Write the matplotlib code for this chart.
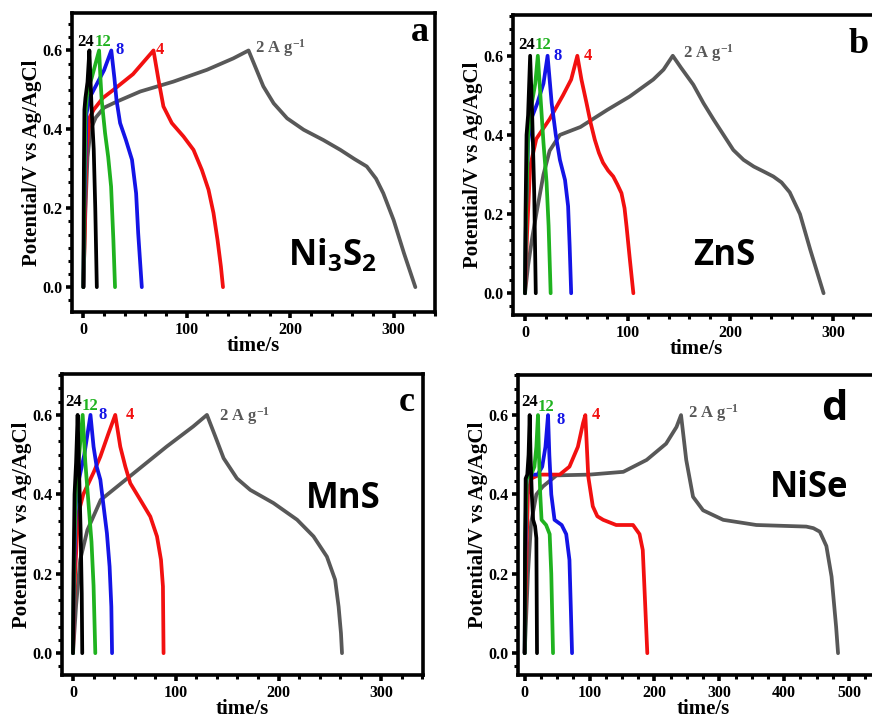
import matplotlib
matplotlib.use("Agg")
import matplotlib.pyplot as plt
from matplotlib.ticker import MultipleLocator, FormatStrFormatter

# ---------------- data (time in s, potential in V) ----------------
# Panel a: Ni3S2
A2_T = [0, 2, 4, 7, 12, 20, 32, 55, 87, 119.5, 145, 159.7,
        166, 174, 184, 197, 213, 232, 248.5, 262, 274, 283, 290, 300, 310, 321]
A2_V = [0, 0.2, 0.33, 0.4, 0.43, 0.455, 0.47, 0.496, 0.521, 0.551, 0.58, 0.6,
        0.56, 0.509, 0.466, 0.428, 0.399, 0.373, 0.348, 0.325, 0.306, 0.275, 0.238, 0.17,
        0.086, 0]
A4_T = [0, 1, 3, 6, 10, 19, 29, 48, 67.8,
        72.6, 77.4, 85.5, 96.8, 106.5, 114.6, 121, 125.8, 129.7, 133, 135]
A4_V = [0, 0.1, 0.35, 0.43, 0.45, 0.48, 0.5, 0.54, 0.6,
        0.526, 0.458, 0.416, 0.382, 0.348, 0.297, 0.247, 0.188, 0.12, 0.052, 0]
A8_T = [0, 1, 3, 6, 12, 20, 27, 30, 32, 35.5, 41, 47, 51, 53, 56.5]
A8_V = [0, 0.2, 0.44, 0.48, 0.51, 0.55, 0.6, 0.53, 0.475, 0.416, 0.374, 0.323, 0.238,
        0.137, 0]
A12_T = [0, 1, 2, 4, 8, 15.2, 16.5, 17.7, 21, 24, 26.8, 29, 30.6]
A12_V = [0, 0.25, 0.44, 0.5, 0.53, 0.6, 0.53, 0.475, 0.39, 0.33, 0.255, 0.12, 0]
A24_T = [0, 0.5, 1, 2, 4, 5.8, 8, 10, 11.5, 13]
A24_V = [0, 0.3, 0.45, 0.48, 0.52, 0.6, 0.45, 0.35, 0.2, 0]

# Panel b: ZnS
B2_T = [0, 3, 7, 11, 18, 24, 34, 54, 80, 102, 125, 135, 144,
        152, 164, 174, 184, 194, 203, 213, 223, 233, 242, 250, 258, 268, 278, 291]
B2_V = [0, 0.07, 0.14, 0.2, 0.3, 0.36, 0.4, 0.42, 0.463, 0.497, 0.54, 0.565, 0.6,
        0.57, 0.527, 0.48, 0.438, 0.398, 0.362, 0.337, 0.32, 0.307, 0.295, 0.28, 0.255,
        0.2, 0.11, 0]
B4_T = [0, 2, 5, 11, 24, 37, 45, 51,
        55, 60, 64, 68, 72, 76, 81, 86, 90, 94, 97, 99, 102, 105.6]
B4_V = [0, 0.15, 0.32, 0.39, 0.44, 0.5, 0.54, 0.6,
        0.54, 0.48, 0.43, 0.388, 0.355, 0.33, 0.31, 0.295, 0.275, 0.253, 0.215, 0.168,
        0.09, 0]
B8_T = [0, 1, 3, 6, 12, 18, 22, 26, 30, 34, 39, 42, 43.5, 45]
B8_V = [0, 0.2, 0.38, 0.44, 0.48, 0.53, 0.6, 0.48, 0.4, 0.337, 0.286, 0.22, 0.12, 0]
B12_T = [0, 1, 3, 6, 10, 12.5, 15, 18, 21, 23, 25]
B12_V = [0, 0.2, 0.4, 0.47, 0.53, 0.6, 0.5, 0.38, 0.28, 0.17, 0]
B24_T = [0, 0.5, 1.5, 3, 5, 7, 9, 10.5]
B24_V = [0, 0.2, 0.4, 0.45, 0.6, 0.45, 0.25, 0]

# Panel c: MnS
C2_T = [0, 3, 7, 14, 27, 59, 91, 117, 130.3,
        138.4, 146.5, 159.5, 172.5, 195, 218, 234, 247, 255, 258.4, 260.7, 261.7]
C2_V = [0, 0.12, 0.235, 0.31, 0.386, 0.453, 0.52, 0.571, 0.6,
        0.546, 0.491, 0.44, 0.411, 0.378, 0.336, 0.294, 0.243, 0.185, 0.117, 0.05, 0]
C4_T = [0, 2, 5, 10, 20, 26.6, 34.6, 41.1,
        46, 50.9, 55.7, 65.5, 75.2, 81.7, 85.6, 87.5, 88.1]
C4_V = [0, 0.2, 0.35, 0.4, 0.455, 0.495, 0.554, 0.6,
        0.52, 0.47, 0.428, 0.386, 0.344, 0.294, 0.235, 0.168, 0]
C8_T = [0, 1, 3, 6, 11, 17, 20, 23, 26.6, 29.8, 33, 35.6, 37.3, 38]
C8_V = [0, 0.2, 0.38, 0.44, 0.5, 0.6, 0.52, 0.47, 0.437, 0.369, 0.302, 0.218, 0.117, 0]
C12_T = [0, 1, 3, 6, 9.4, 12, 15, 18, 20, 21.7]
C12_V = [0, 0.25, 0.42, 0.5, 0.6, 0.48, 0.38, 0.28, 0.17, 0]
C24_T = [0, 0.5, 1.5, 3, 4.5, 6, 7.5, 8.5, 9]
C24_V = [0, 0.2, 0.4, 0.48, 0.6, 0.45, 0.3, 0.15, 0]

# Panel d: NiSe
D2_T = [0, 5, 10, 18, 28, 49, 100, 152, 188, 218, 234, 241,
        249, 259.5, 275, 306, 357, 434, 445, 455, 465, 473, 480, 483]
D2_V = [0, 0.2, 0.33, 0.4, 0.42, 0.448, 0.45, 0.457, 0.487, 0.528, 0.57, 0.6,
        0.487, 0.394, 0.36, 0.336, 0.323, 0.319, 0.315, 0.306, 0.27, 0.193, 0.067, 0]
D4_T = [0, 2, 5, 10, 23, 54, 69, 82, 90, 93.5,
        98, 105, 112, 121, 141, 167, 177, 182, 185, 189]
D4_V = [0, 0.2, 0.4, 0.44, 0.45, 0.45, 0.47, 0.52, 0.58, 0.6,
        0.445, 0.37, 0.345, 0.336, 0.323, 0.323, 0.30, 0.26, 0.15, 0]
D8_T = [0, 1, 3, 8, 20, 27, 32, 36, 38, 41, 46, 57, 64, 69, 71, 73]
D8_V = [0, 0.25, 0.44, 0.45, 0.45, 0.47, 0.52, 0.6, 0.5, 0.40, 0.336, 0.323, 0.30, 0.235,
        0.12, 0]
D12_T = [0, 1, 3, 10, 15, 18, 20.5, 22, 24, 26, 33, 38.5, 41, 43.7]
D12_V = [0, 0.3, 0.44, 0.45, 0.47, 0.52, 0.6, 0.5, 0.4, 0.336, 0.323, 0.3, 0.2, 0]
D24_T = [0, 0.5, 1.5, 4, 6, 7.7, 9, 11, 13, 16, 18, 19]
D24_V = [0, 0.25, 0.44, 0.45, 0.5, 0.6, 0.5, 0.4, 0.336, 0.32, 0.29, 0]

RATES = ["2", "4", "8", "12", "24"]
COLORS = {"2": "#585858", "4": "#f21010", "8": "#1414e6", "12": "#1fb21f", "24": "#000000"}

SERIF = ["Liberation Serif", "DejaVu Serif"]
SANS = ["Open Sans", "DejaVu Sans"]

fig = plt.figure(figsize=(8.72, 7.25), dpi=100)
W, H = 872.0, 725.0


def make_ax(left, top, right, bottom):
    return fig.add_axes([left / W, 1 - bottom / H, (right - left) / W, (bottom - top) / H])


panels = [
    dict(ax=make_ax(72, 13, 435, 312), xlim=(-11, 340), ylim=(-0.063, 0.695), xminor=20,
         curves={"2": (A2_T, A2_V), "4": (A4_T, A4_V), "8": (A8_T, A8_V),
                 "12": (A12_T, A12_V), "24": (A24_T, A24_V)},
         labels={"24": (-6, 0.622), "12": (10.6, 0.622), "8": (30.6, 0.6), "4": (70, 0.6),
                 "2": (166, 0.607)},
         name=r"Ni$\mathregular{_3}$S$\mathregular{_2}$", name_pos=(198, 0.057),
         letter="a", letter_pos=(334, 0.625), letter_font=SERIF, letter_size=26),
    dict(ax=make_ax(513, 15, 879, 315), xlim=(-11.7, 345), ylim=(-0.055, 0.703), xminor=20,
         curves={"2": (B2_T, B2_V), "4": (B4_T, B4_V), "8": (B8_T, B8_V),
                 "12": (B12_T, B12_V), "24": (B24_T, B24_V)},
         labels={"24": (-6.5, 0.628), "12": (9.8, 0.628), "8": (27.6, 0.6), "4": (57.5, 0.6),
                 "2": (154, 0.607)},
         name="ZnS", name_pos=(164, 0.072),
         letter="b", letter_pos=(335, 0.607), letter_font=SERIF, letter_size=26),
    dict(ax=make_ax(62, 374, 423, 675), xlim=(-10.7, 340.5), ylim=(-0.055, 0.703), xminor=20,
         curves={"2": (C2_T, C2_V), "4": (C4_T, C4_V), "8": (C8_T, C8_V),
                 "12": (C12_T, C12_V), "24": (C24_T, C24_V)},
         labels={"24": (-7.5, 0.633), "12": (8.8, 0.622), "8": (24.5, 0.6), "4": (51, 0.6),
                 "2": (142, 0.598)},
         name="MnS", name_pos=(227, 0.365),
         letter="c", letter_pos=(332, 0.61), letter_font=SERIF, letter_size=26),
    dict(ax=make_ax(518, 375, 888, 675), xlim=(-10.3, 560), ylim=(-0.055, 0.701), xminor=25,
         curves={"2": (D2_T, D2_V), "4": (D4_T, D4_V), "8": (D8_T, D8_V),
                 "12": (D12_T, D12_V), "24": (D24_T, D24_V)},
         labels={"24": (-5, 0.633), "12": (20.5, 0.62), "8": (49, 0.587), "4": (103, 0.6),
                 "2": (252, 0.604)},
         name="NiSe", name_pos=(378, 0.394),
         letter="d", letter_pos=(498, 0.587), letter_font=SANS, letter_size=30),
]

for p in panels:
    ax = p["ax"]
    for r in RATES:
        t, v = p["curves"][r]
        ax.plot(t, v, color=COLORS[r], lw=2.7, solid_joinstyle="round",
                solid_capstyle="round", zorder=3 if r != "24" else 4)
    for r, (x, y) in p["labels"].items():
        txt = "2 A g$\\mathregular{^{-1}}$" if r == "2" else r
        ax.text(x, y, txt, color=COLORS[r], fontsize=12, fontweight="bold",
                family=SERIF, ha="left", va="center", zorder=5)
    ax.text(p["name_pos"][0], p["name_pos"][1], p["name"], fontsize=25, fontweight="bold",
            family=SANS, ha="left", va="baseline", color="black")
    ax.text(p["letter_pos"][0], p["letter_pos"][1], p["letter"], fontsize=p["letter_size"],
            fontweight="bold", family=p["letter_font"], ha="right", va="baseline", color="black")

    ax.set_xlim(*p["xlim"])
    ax.set_ylim(*p["ylim"])
    ax.xaxis.set_major_locator(MultipleLocator(100))
    ax.xaxis.set_minor_locator(MultipleLocator(p["xminor"]))
    ax.yaxis.set_major_locator(MultipleLocator(0.2))
    ax.yaxis.set_minor_locator(MultipleLocator(0.2 / 6))
    ax.yaxis.set_major_formatter(FormatStrFormatter("%.1f"))
    for s in ax.spines.values():
        s.set_linewidth(2.6)
    ax.tick_params(which="major", direction="out", length=4, width=2.6, pad=3)
    ax.tick_params(which="minor", direction="out", length=3, width=2.2)
    for lab in ax.get_xticklabels() + ax.get_yticklabels():
        lab.set_fontfamily(SERIF)
        lab.set_fontweight("bold")
        lab.set_fontsize(11.5)
    ax.set_xlabel("time/s", fontsize=15, fontweight="bold", family=SERIF, labelpad=-1)
    ax.set_ylabel("Potential/V vs Ag/AgCl", fontsize=15, fontweight="bold",
                  family=SERIF, labelpad=0)

fig.savefig("out.png", dpi=100)
